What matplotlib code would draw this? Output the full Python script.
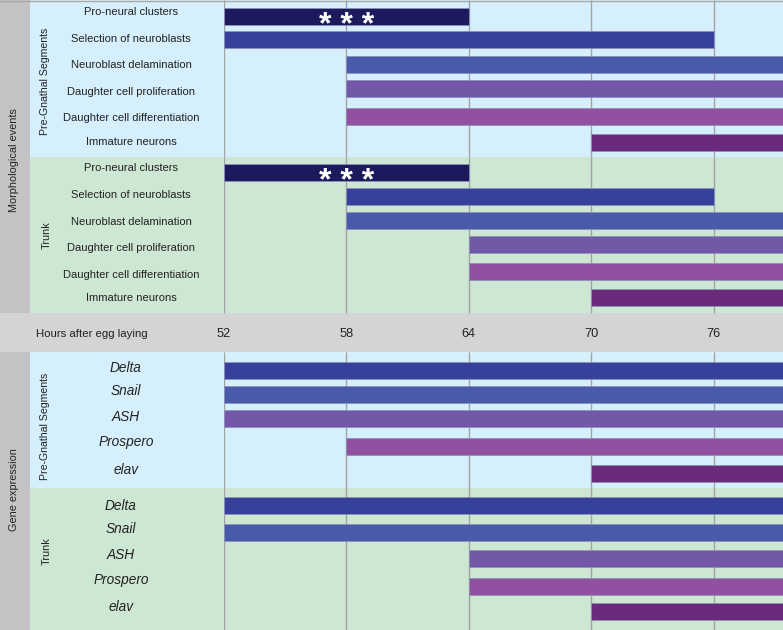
import matplotlib
matplotlib.use("Agg")
import matplotlib.pyplot as plt
from matplotlib.patches import Rectangle

# ---------------- data ----------------
hours = [52, 58, 64, 70, 76]
x_max = 79.4          # right edge of the timeline (hours)
open_end = 80         # bars running off the right edge

morph_labels = ["Pro-neural clusters", "Selection of neuroblasts", "Neuroblast delamination",
                "Daughter cell proliferation", "Daughter cell differentiation", "Immature neurons"]
morph_pgs_start = [52, 52, 58, 58, 58, 70]
morph_pgs_end = [64, 76, open_end, open_end, open_end, open_end]
morph_trunk_start = [52, 58, 58, 64, 64, 70]
morph_trunk_end = [64, 76, open_end, open_end, open_end, open_end]
morph_marked = [True, False, False, False, False, False]   # "***" annotation

gene_labels = ["Delta", "Snail", "ASH", "Prospero", "elav"]
gene_pgs_start = [52, 52, 52, 58, 70]
gene_pgs_end = [open_end] * 5
gene_trunk_start = [52, 52, 64, 64, 70]
gene_trunk_end = [open_end] * 5

# ---------------- style ----------------
morph_colors = ["#1c1a5c", "#37409a", "#4a5aaa", "#7358a8", "#9150a0", "#6a2b7d"]
gene_colors = ["#37409a", "#4a5aaa", "#7358a8", "#9150a0", "#6a2b7d"]
BLUE = "#d5effc"
GREEN = "#cde7d3"
BAND = "#d4d4d4"
LEFT = "#c3c3c5"
GRID = "#a3a3a3"
TXT = "#222222"

regular = ["Liberation Sans", "DejaVu Sans"]

W, H = 783, 630
fig = plt.figure(figsize=(W / 100, H / 100), dpi=100)

# background axes in pixel units
bg = fig.add_axes([0, 0, 1, 1])
bg.set_xlim(0, W)
bg.set_ylim(H, 0)
bg.axis("off")

sections = {
    "morph_pgs": (0, 157, BLUE),
    "morph_trunk": (157, 313, GREEN),
    "gene_pgs": (352, 488, BLUE),
    "gene_trunk": (488, 630, GREEN),
}
for top, bot, col in sections.values():
    bg.add_patch(Rectangle((30, top), W - 30, bot - top, facecolor=col, edgecolor="none", zorder=0))
bg.add_patch(Rectangle((0, 0), 30, 313, facecolor=LEFT, edgecolor="none", zorder=0))
bg.add_patch(Rectangle((0, 352), 30, H - 352, facecolor=LEFT, edgecolor="none", zorder=0))
bg.add_patch(Rectangle((0, 313), W, 39, facecolor=BAND, edgecolor="none", zorder=0))
bg.plot([0, W], [0.5, 0.5], color="#a8a8a8", lw=1, zorder=1)

# row centres (layout, pixel)
row_y = {
    "morph_pgs": [16, 39.5, 64, 88, 116, 142],
    "morph_trunk": [172.5, 196, 220, 244, 271, 297.5],
    "gene_pgs": [370.5, 394.5, 418.5, 446.5, 473],
    "gene_trunk": [505, 532, 558, 586, 611.5],
}
label_y = {
    "morph_pgs": [12, 39, 65, 92, 118, 142],
    "morph_trunk": [168, 195, 222, 248, 275, 298],
    "gene_pgs": [368, 391, 417, 442, 470],
    "gene_trunk": [506, 529, 555, 580, 607],
}

# group / section titles
bg.text(14, 160, "Morphological events", rotation=90, ha="center", va="center",
        fontsize=7.8, family=regular, color=TXT)
bg.text(14, 490, "Gene expression", rotation=90, ha="center", va="center",
        fontsize=7.8, family=regular, color=TXT)
for y in [81, 426]:
    bg.text(45, y, "Pre-Gnathal Segments", rotation=90, ha="center", va="center",
            fontsize=7.6, family=regular, color=TXT)
for y in [235, 551]:
    bg.text(47, y, "Trunk", rotation=90, ha="center", va="center",
            fontsize=7.8, family=regular, color=TXT)

for key in ["morph_pgs", "morph_trunk"]:
    for lab, y in zip(morph_labels, label_y[key]):
        bg.text(131, y, lab, ha="center", va="center", fontsize=8.0, family=regular, color=TXT)
for key, xc in [("gene_pgs", 126), ("gene_trunk", 121)]:
    for lab, y in zip(gene_labels, label_y[key]):
        bg.text(xc, y, lab, ha="center", va="center", fontsize=9.8, style="italic",
                family=regular, color=TXT)

bg.text(36, 334, "Hours after egg laying", ha="left", va="center", fontsize=8.2,
        family=regular, color=TXT)

# ---------------- timeline axes ----------------
x0 = 224 / W
ax = fig.add_axes([x0, 0, 1 - x0, 1])
ax.set_xlim(52, x_max)
ax.set_ylim(H, 0)
ax.axis("off")
ax.patch.set_alpha(0)

for top, bot, _ in sections.values():
    ax.vlines(hours, top, bot, colors=GRID, lw=1.0, zorder=1)

for h in hours:
    ax.text(h, 334, str(h), ha="center", va="center", fontsize=9.2, family=regular, color=TXT)

BAR_H = 17
def draw(key, starts, ends, colors):
    ys = row_y[key]
    ax.barh(ys, [e - s for s, e in zip(starts, ends)], left=starts, height=BAR_H,
            color=colors, edgecolor="#8c92b8", linewidth=0.6, zorder=2)

draw("morph_pgs", morph_pgs_start, morph_pgs_end, morph_colors)
draw("morph_trunk", morph_trunk_start, morph_trunk_end, morph_colors)
draw("gene_pgs", gene_pgs_start, gene_pgs_end, gene_colors)
draw("gene_trunk", gene_trunk_start, gene_trunk_end, gene_colors)

for key, starts, ends in [("morph_pgs", morph_pgs_start, morph_pgs_end),
                          ("morph_trunk", morph_trunk_start, morph_trunk_end)]:
    for y, s, e, m in zip(row_y[key], starts, ends, morph_marked):
        if m:
            ax.text((s + e) / 2, y + 9.5, "* * *", ha="center", va="center", fontsize=23,
                    fontweight="bold", color="white", family=regular, zorder=3)

fig.savefig("out.png", dpi=100)
